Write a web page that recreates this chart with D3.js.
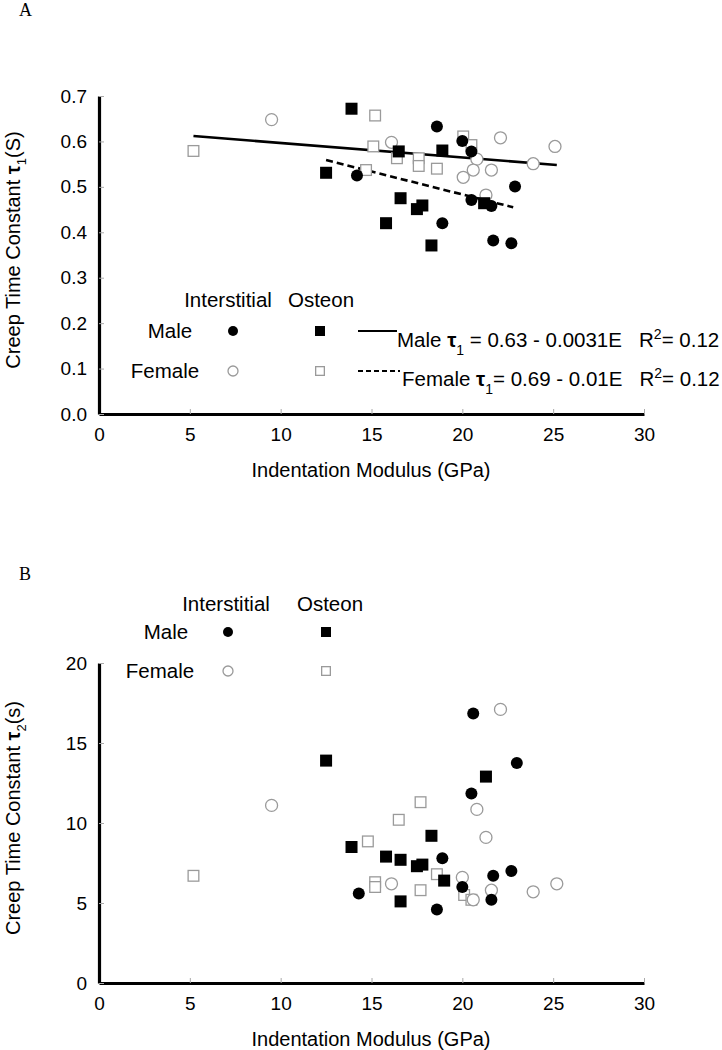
<!DOCTYPE html>
<html><head><meta charset="utf-8">
<script src="https://cdn.jsdelivr.net/npm/d3@7/dist/d3.min.js"></script>
<style>
body{margin:0;background:#fff;}
svg text{fill:#000;}
</style></head>
<body>
<svg id="c" width="722" height="1050"></svg>
<script>
// ---------- DATA ----------
const xTicks = [0, 5, 10, 15, 20, 25, 30];
const yTicksA = [0, 0.1, 0.2, 0.3, 0.4, 0.5, 0.6, 0.7];
const yTicksB = [0, 5, 10, 15, 20];

// Panel A: [Indentation modulus (GPa), tau1 (s)]
const maleInterstitialA = [[18.6,0.633],[20.0,0.601],[20.5,0.578],[14.2,0.525],[22.9,0.501],[20.5,0.471],[21.6,0.458],[18.9,0.420],[21.7,0.382],[22.7,0.376]];
const maleOsteonA = [[13.9,0.672],[16.5,0.578],[18.9,0.580],[12.5,0.531],[16.6,0.475],[17.8,0.459],[17.5,0.451],[15.8,0.420],[18.3,0.371],[21.2,0.464]];
const femaleInterstitialA = [[9.5,0.648],[16.1,0.598],[22.1,0.608],[25.1,0.589],[20.8,0.561],[20.6,0.537],[21.6,0.537],[20.05,0.521],[23.9,0.551],[21.3,0.482]];
const femaleOsteonA = [[5.2,0.579],[15.2,0.657],[15.1,0.589],[16.4,0.563],[14.7,0.537],[17.6,0.563],[17.6,0.546],[18.6,0.540],[20.05,0.611],[20.5,0.592]];
// regression line end points
const maleFitA = [[5.2,0.612],[25.2,0.548]];
const femaleFitA = [[12.5,0.559],[22.8,0.455]];

// Panel B: [Indentation modulus (GPa), tau2 (s)]
const maleInterstitialB = [[14.3,5.6],[18.9,7.8],[18.6,4.6],[20.0,6.0],[21.6,5.2],[21.7,6.7],[22.7,7.0],[20.6,16.85],[23.0,13.75],[20.5,11.85]];
const maleOsteonB = [[13.9,8.5],[15.8,7.9],[16.6,7.7],[16.6,5.1],[17.5,7.3],[17.8,7.4],[18.3,9.2],[19.0,6.4],[12.5,13.9],[21.3,12.9]];
const femaleInterstitialB = [[16.1,6.2],[20.0,6.6],[20.6,5.2],[21.6,5.8],[23.9,5.7],[25.2,6.2],[9.5,11.1],[22.1,17.1],[20.8,10.85],[21.3,9.1]];
const femaleOsteonB = [[14.8,8.85],[15.2,6.3],[15.2,6.0],[17.7,5.8],[17.7,11.3],[16.5,10.2],[18.6,6.8],[20.1,5.5],[20.5,5.2],[5.2,6.7]];

const groupLabels = ["Interstitial", "Osteon"];
const sexLabels = ["Male", "Female"];

// ---------- DRAW ----------
const svg = d3.select("#c");
const SANS = '"Liberation Sans",Arial,sans-serif';
const SERIF = '"Liberation Serif","Times New Roman",serif';
const GRAY = "#9a9a9a";
const NB = "\u00a0";

function marker(g, kind, x, y, size) {
  const filled = kind === "mi" || kind === "mo";
  if (kind === "mi" || kind === "fi") {
    g.append("circle").attr("cx", x).attr("cy", y).attr("r", size / 2)
      .attr("fill", filled ? "#000" : "#fff")
      .attr("stroke", filled ? "#000" : GRAY).attr("stroke-width", filled ? 0 : 1.3);
  } else {
    const s = filled ? size : size - 1.3;
    g.append("rect").attr("x", x - s / 2).attr("y", y - s / 2).attr("width", s).attr("height", s)
      .attr("fill", filled ? "#000" : "#fff")
      .attr("stroke", filled ? "#000" : GRAY).attr("stroke-width", filled ? 0 : 1.3);
  }
}

function txt(g, x, y, size, s, anchor) {
  return g.append("text").attr("x", x).attr("y", y).style("font-family", SANS)
    .style("font-size", size + "px").attr("text-anchor", anchor || "start").text(s);
}

function panel(opts) {
  const g = svg.append("g");
  const x = d3.scaleLinear().domain([0, 30]).range([99, 644]);
  const y = d3.scaleLinear().domain(opts.yDomain).range([opts.y0, opts.y1]);

  // axes
  const xa = g.append("g").attr("transform", `translate(0,${opts.y0})`)
    .call(d3.axisBottom(x).tickValues(xTicks).tickSizeInner(-5).tickSizeOuter(0).tickPadding(14).tickFormat(d3.format("d")));
  const ya = g.append("g").attr("transform", `translate(99,0)`)
    .call(d3.axisLeft(y).tickValues(opts.yTicks).tickSizeInner(-5).tickSizeOuter(0).tickPadding(12).tickFormat(opts.yFmt));
  [xa, ya].forEach(a => {
    a.select(".domain").attr("stroke", "#000").attr("stroke-width", 3.2);
    a.selectAll(".tick line").attr("stroke", "#aaa").attr("stroke-width", 1);
    a.selectAll(".tick text").style("font-size", "19px").style("font-family", SANS).attr("fill", "#000");
  });

  // axis titles
  txt(g, 371, opts.y0 + 63, 20, "Indentation Modulus (GPa)", "middle");
  const yt = g.append("text").attr("transform", `translate(20,${opts.yTitleY}) rotate(-90)`)
    .attr("text-anchor", "middle").style("font-family", SANS).style("font-size", "20px");
  yt.append("tspan").text("Creep Time Constant" + NB);
  yt.append("tspan").attr("font-weight", "bold").text("τ");
  yt.append("tspan").style("font-size", "13px").attr("dy", 6).text(opts.sub);
  yt.append("tspan").attr("dy", -6).text(opts.unit);

  // panel letter
  svg.append("text").attr("x", 19).attr("y", opts.letterY).style("font-family", SERIF)
    .style("font-size", "18px").text(opts.letter);

  // fit lines
  if (opts.fits) {
    const line = d3.line().x(d => x(d[0])).y(d => y(d[1]));
    g.append("path").datum(opts.fits[0]).attr("d", line).attr("stroke", "#000").attr("stroke-width", 2.6).attr("fill", "none");
    g.append("path").datum(opts.fits[1]).attr("d", line).attr("stroke", "#000").attr("stroke-width", 2.6)
      .attr("stroke-dasharray", "7,4").attr("fill", "none");
  }

  // points
  const pts = g.append("g");
  [["fo", opts.fo], ["fi", opts.fi], ["mo", opts.mo], ["mi", opts.mi]].forEach(([k, arr]) => {
    arr.forEach(d => marker(pts, k, x(d[0]), y(d[1]), 12));
  });

  // legend
  const L = opts.legend;
  const lg = g.append("g");
  txt(lg, L.c1, L.hy, 20.5, groupLabels[0], "middle");
  txt(lg, L.c2, L.hy, 20.5, groupLabels[1], "middle");
  txt(lg, L.mx, L.my + 7, 20.5, sexLabels[0], "middle");
  txt(lg, L.fx, L.fy + 7, 20.5, sexLabels[1], "middle");
  marker(lg, "mi", L.c1m, L.my, 10);
  marker(lg, "mo", L.c2m, L.my, 10);
  marker(lg, "fi", L.c1m, L.fy, 10);
  marker(lg, "fo", L.c2m, L.fy, 10);

  if (opts.eq) {
    lg.append("line").attr("x1", 358).attr("x2", 397).attr("y1", L.my).attr("y2", L.my).attr("stroke", "#000").attr("stroke-width", 2.2);
    lg.append("line").attr("x1", 358).attr("x2", 400).attr("y1", L.fy).attr("y2", L.fy).attr("stroke", "#000").attr("stroke-width", 2.2).attr("stroke-dasharray", "5,3");
    opts.eq.forEach(e => {
      const t = lg.append("text").attr("x", e.x).attr("y", e.y).style("font-family", SANS).style("font-size", "20.5px");
      t.append("tspan").text(e.a);
      t.append("tspan").attr("font-weight", "bold").text("τ");
      t.append("tspan").style("font-size", "14px").attr("dy", 8).text("1");
      t.append("tspan").attr("dy", -8).text(e.b);
      t.append("tspan").style("font-size", "14px").attr("dy", -8).text("2");
      t.append("tspan").attr("dy", 8).text(e.c);
    });
  }
}

panel({
  letter: "A", letterY: 16,
  yDomain: [0, 0.7], y0: 414, y1: 96, yTicks: yTicksA, yFmt: d3.format(".1f"),
  yTitleY: 250, sub: "1", unit: "(S)",
  mi: maleInterstitialA, mo: maleOsteonA, fi: femaleInterstitialA, fo: femaleOsteonA,
  fits: [maleFitA, femaleFitA],
  legend: { c1: 228, c2: 321, hy: 307, mx: 170, my: 331, fx: 165, fy: 371, c1m: 233, c2m: 320 },
  eq: [
    { x: 397, y: 347, a: "Male" + NB, b: NB + "=" + NB + "0.63" + NB + "-" + NB + "0.0031E" + NB + NB + NB + "R", c: "=" + NB + "0.12" },
    { x: 402, y: 386, a: "Female" + NB, b: "=" + NB + "0.69" + NB + "-" + NB + "0.01E" + NB + NB + NB + "R", c: "=" + NB + "0.12" }
  ]
});

panel({
  letter: "B", letterY: 580,
  yDomain: [0, 20], y0: 983, y1: 663, yTicks: yTicksB, yFmt: d3.format("d"),
  yTitleY: 818, sub: "2", unit: "(s)",
  mi: maleInterstitialB, mo: maleOsteonB, fi: femaleInterstitialB, fo: femaleOsteonB,
  fits: null,
  legend: { c1: 226, c2: 330, hy: 611, mx: 166, my: 632, fx: 160, fy: 671, c1m: 228, c2m: 326 },
  eq: null
});
</script>
</body></html>
